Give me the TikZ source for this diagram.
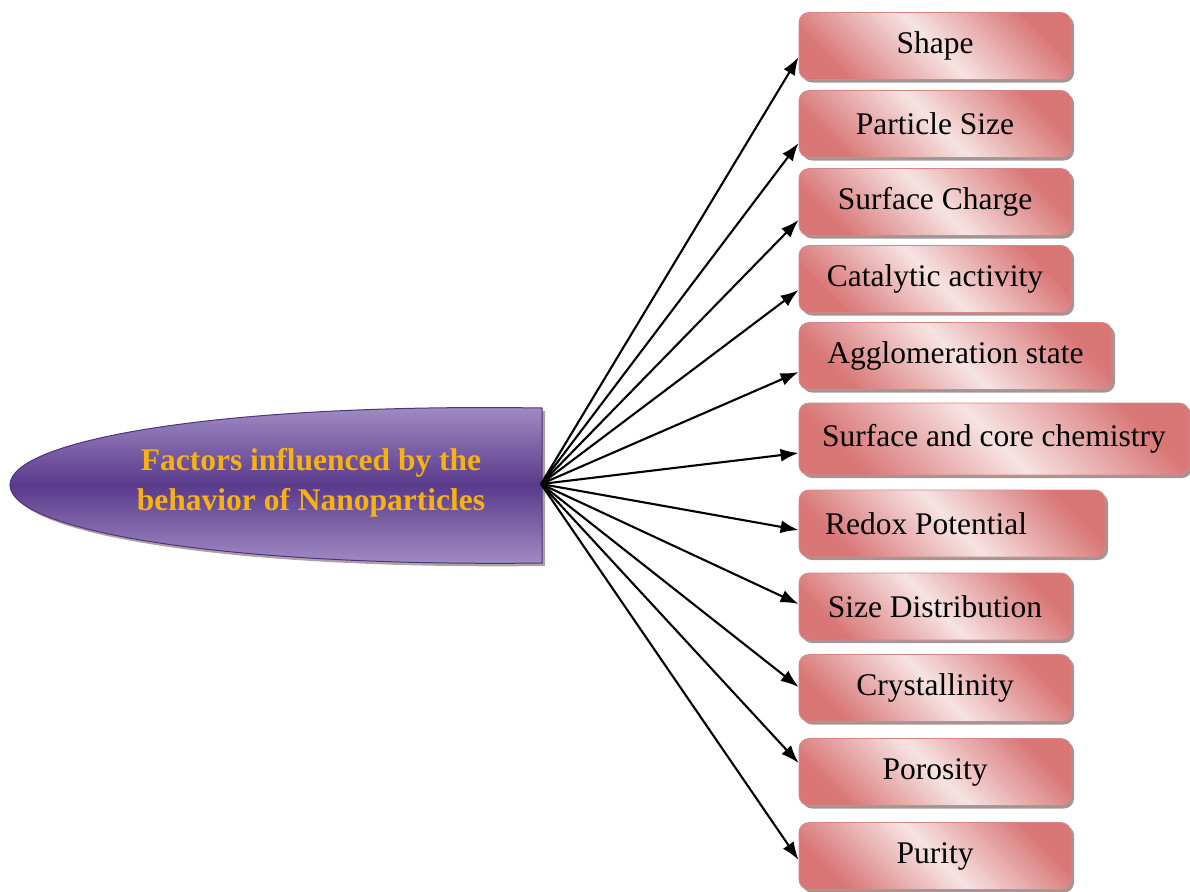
\documentclass[tikz,border=0pt]{standalone}
\usepackage{fontspec}
\setmainfont{Liberation Serif}
\usetikzlibrary{arrows.meta,shadows}
\definecolor{pdark}{HTML}{5A3A8C}
\definecolor{plight}{HTML}{A48FC6}
\definecolor{pedge}{HTML}{4E3380}
\definecolor{titletext}{HTML}{F6B213}
\definecolor{bdark}{HTML}{D97777}
\definecolor{blight}{HTML}{F7E3E3}
\definecolor{boxedge}{HTML}{D98585}
\definecolor{shadowgray}{HTML}{9A8A8A}
\begin{document}
\begin{tikzpicture}[x=1pt,y=-1pt,
  factor/.style={draw=boxedge, line width=0.8pt, rounded corners=10pt,
    top color=bdark, bottom color=bdark, middle color=blight, shading angle=-45,
    minimum height=67pt, inner xsep=26pt, inner ysep=0pt,
    font=\fontsize{31.5}{36}\selectfont, text=black,
    drop shadow={shadow xshift=3pt, shadow yshift=-3pt, fill=shadowgray, opacity=0.9}},
  titletxt/.style={align=center, text=titletext, font=\bfseries\fontsize{31.5}{40}\selectfont},
  conn/.style={-{Latex[length=18pt,width=13pt]}, line width=2.1pt, black}
]
\useasboundingbox (0,0) rectangle (1190,891);

% shadow of the title shape
\fill[shadowgray, opacity=0.8] (545,411) .. controls (223,406) and (13,443) .. (13,488)
  .. controls (13,533) and (223,570) .. (545,566) -- cycle;
% title shape
\path[draw=pedge, line width=1pt, top color=plight, bottom color=plight, middle color=pdark]
  (542,408) .. controls (220,403) and (10,440) .. (10,485)
  .. controls (10,530) and (220,567) .. (542,563) -- cycle;
\node[titletxt] (title) at (311,483) {Factors influenced by the\\behavior of Nanoparticles};
\coordinate (src) at (541,484);

% factor boxes
\node[factor, minimum width=272pt] (b1) at (935,46) {Shape};
\node[factor, minimum width=272pt] (b2) at (935,124) {Particle Size};
\node[factor, minimum width=272pt] (b3) at (935,202) {Surface Charge};
\node[factor, minimum width=272pt] (b4) at (935,279) {Catalytic activity};
\node[factor, minimum width=313pt] (b5) at (955.5,356) {Agglomeration state};
\node[factor, minimum width=390pt, minimum height=72pt, inner xsep=0pt] (b6) at (994,439) {\makebox[340pt]{Surface and core chemistry}};
\node[factor, minimum width=306pt] (b7) at (952,523.5) {\makebox[254pt][l]{Redox Potential}};
\node[factor, minimum width=272pt] (b8) at (935,606.5) {Size Distribution};
\node[factor, minimum width=272pt] (b9) at (935,688) {Crystallinity};
\node[factor, minimum width=272pt] (b10) at (935,772) {Porosity};
\node[factor, minimum width=272pt] (b11) at (935,856) {Purity};

% connectors
\foreach \b/\y in {b1/57, b2/143, b3/220, b4/290, b5/372, b6/453, b7/530, b8/604, b9/687, b10/763, b11/860}
  \draw[conn] (src) -- (\b.west |- 0,\y);
\end{tikzpicture}
\end{document}
